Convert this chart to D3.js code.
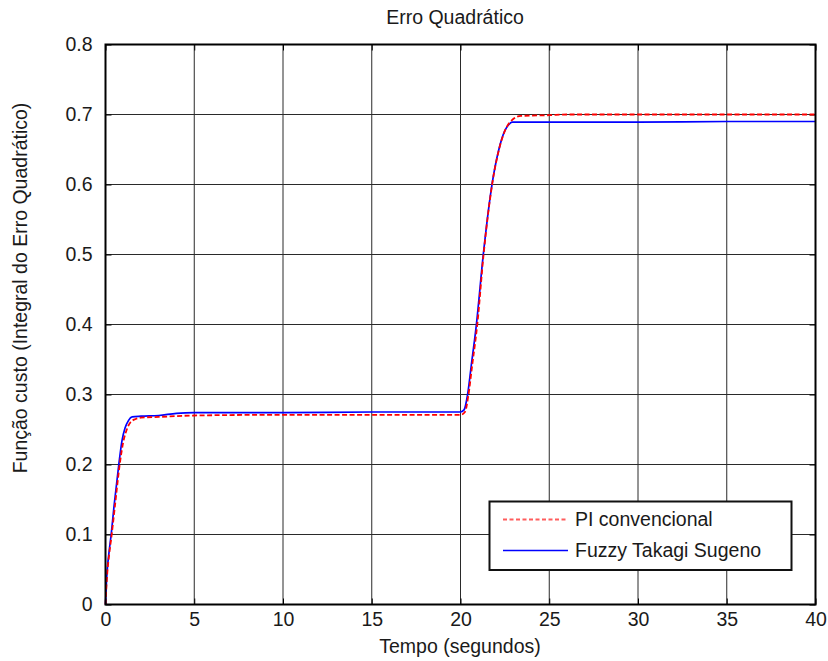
<!DOCTYPE html>
<html>
<head>
<meta charset="utf-8">
<script src="https://cdn.jsdelivr.net/npm/d3@7"></script>
<style>
  html, body { margin: 0; padding: 0; background: #fff; }
  svg { display: block; }
  text { font-family: "Liberation Sans", Arial, sans-serif; fill: #1a1a1a; }
</style>
</head>
<body>
<svg id="chart" width="828" height="661"></svg>
<script>
// ---- data ----
const chartTitle = "Erro Quadrático";
const xLabel = "Tempo (segundos)";
const yLabel = "Função custo (Integral do Erro Quadrático)";
const seriesNames = ["PI convencional", "Fuzzy Takagi Sugeno"];

const xTicks = [0, 5, 10, 15, 20, 25, 30, 35, 40];
const yTicks = [0, 0.1, 0.2, 0.3, 0.4, 0.5, 0.6, 0.7, 0.8];

// PI convencional (red dashed)
const piTime  = [0, 0.05, 0.1, 0.2, 0.35, 0.55, 0.8, 1.0, 1.2, 1.4, 1.7, 2, 3, 5, 10, 15, 20, 20.25, 20.45, 20.65, 20.95, 21.3, 21.8, 22.2, 22.6, 22.9, 23.4, 25, 26, 30, 40];
const piValue = [0, 0.025, 0.045, 0.07, 0.1, 0.145, 0.2, 0.232, 0.25, 0.26, 0.265, 0.267, 0.268, 0.27, 0.271, 0.271, 0.271, 0.275, 0.3, 0.34, 0.401, 0.5, 0.603, 0.653, 0.682, 0.692, 0.698, 0.699, 0.7, 0.7, 0.7];

// Fuzzy Takagi Sugeno (blue solid)
const fuzzyTime  = [0, 0.05, 0.1, 0.2, 0.32, 0.5, 0.75, 0.93, 1.1, 1.3, 1.5, 2, 3, 4, 5, 10, 15, 20, 20.2, 20.4, 20.6, 20.9, 21.28, 21.78, 22.15, 22.5, 22.7, 22.9, 25, 30, 35, 40];
const fuzzyValue = [0, 0.03, 0.05, 0.075, 0.1, 0.145, 0.2, 0.234, 0.252, 0.263, 0.268, 0.269, 0.27, 0.273, 0.274, 0.274, 0.275, 0.275, 0.278, 0.3, 0.34, 0.401, 0.499, 0.601, 0.649, 0.677, 0.685, 0.689, 0.689, 0.689, 0.69, 0.69];

// ---- layout ----
const svg = d3.select("#chart");
const L = 105.5, R = 815.5, T = 44.5, B = 604.5;
const FS = 19.5;

const x = d3.scaleLinear().domain([0, 40]).range([L, R]);
const y = d3.scaleLinear().domain([0, 0.8]).range([B, T]);

// background
svg.append("rect").attr("width", 828).attr("height", 661).attr("fill", "#fff");
svg.append("rect").attr("x", L).attr("y", T).attr("width", R - L).attr("height", B - T).attr("fill", "#fff");

// grid
const grid = svg.append("g").attr("stroke", "#2a2a2a").attr("stroke-width", 1);
xTicks.forEach(t => grid.append("line").attr("x1", x(t)).attr("x2", x(t)).attr("y1", T).attr("y2", B));
yTicks.forEach(t => grid.append("line").attr("y1", y(t)).attr("y2", y(t)).attr("x1", L).attr("x2", R));

// axes using d3 axis (inward ticks)
const xAxis = d3.axisBottom(x).tickValues(xTicks).tickSizeInner(-6).tickSizeOuter(0).tickPadding(14).tickFormat(d3.format("d"));
const yAxis = d3.axisLeft(y).tickValues(yTicks).tickSizeInner(-6).tickSizeOuter(0).tickPadding(13).tickFormat(d => d === 0 ? "0" : d3.format(".1f")(d));

const gx = svg.append("g").attr("transform", `translate(0,${B})`).call(xAxis);
const gy = svg.append("g").attr("transform", `translate(${L},0)`).call(yAxis);
[gx, gy].forEach(g => {
  g.select(".domain").remove();
  g.selectAll("line").attr("stroke", "#000");
  g.selectAll("text").attr("font-size", FS).attr("font-family", "Liberation Sans, Arial, sans-serif").attr("fill", "#1a1a1a");
});
gx.selectAll("text").attr("dy", "0.71em").attr("y", 8);
// top/right ticks
const gt = svg.append("g").attr("transform", `translate(0,${T})`).call(d3.axisTop(x).tickValues(xTicks).tickSizeInner(-6).tickSizeOuter(0).tickFormat(""));
const gr = svg.append("g").attr("transform", `translate(${R},0)`).call(d3.axisRight(y).tickValues(yTicks).tickSizeInner(-6).tickSizeOuter(0).tickFormat(""));
[gt, gr].forEach(g => { g.select(".domain").remove(); g.selectAll("line").attr("stroke", "#000"); });

// lines
const piData = piTime.map((t, i) => [t, piValue[i]]);
const fuzzyData = fuzzyTime.map((t, i) => [t, fuzzyValue[i]]);
const line = d3.line().x(d => x(d[0])).y(d => y(d[1])).curve(d3.curveMonotoneX);

svg.append("path").datum(fuzzyData).attr("d", line)
  .attr("fill", "none").attr("stroke", "#0000ff").attr("stroke-width", 1.7);
svg.append("path").datum(piData).attr("d", line)
  .attr("fill", "none").attr("stroke", "#ff0000").attr("stroke-width", 1.8).attr("stroke-dasharray", "5,2.5");

// box
svg.append("rect").attr("x", L).attr("y", T).attr("width", R - L).attr("height", B - T)
  .attr("fill", "none").attr("stroke", "#000").attr("stroke-width", 2);

// legend
const lg = svg.append("g");
lg.append("rect").attr("x", 489.5).attr("y", 501.5).attr("width", 302).attr("height", 68.5)
  .attr("fill", "#fff").attr("stroke", "#111").attr("stroke-width", 2);
const legY = [519.5, 550.5];
lg.append("line").attr("x1", 503).attr("x2", 568).attr("y1", legY[0]).attr("y2", legY[0])
  .attr("stroke", "#ff5c5c").attr("stroke-width", 1.8).attr("stroke-dasharray", "4,2.5");
lg.append("line").attr("x1", 503).attr("x2", 568).attr("y1", legY[1]).attr("y2", legY[1])
  .attr("stroke", "#0000ff").attr("stroke-width", 1.6);
seriesNames.forEach((n, i) => {
  lg.append("text").attr("x", 575).attr("y", legY[i]).attr("dy", "0.35em")
    .attr("font-size", FS).text(n);
});

// titles
svg.append("text").attr("x", 455).attr("y", 24).attr("text-anchor", "middle").attr("font-size", FS).text(chartTitle);
svg.append("text").attr("x", 460).attr("y", 653).attr("text-anchor", "middle").attr("font-size", FS).text(xLabel);
svg.append("text").attr("transform", "translate(27,288) rotate(-90)").attr("text-anchor", "middle").attr("font-size", FS).text(yLabel);
</script>
</body>
</html>
